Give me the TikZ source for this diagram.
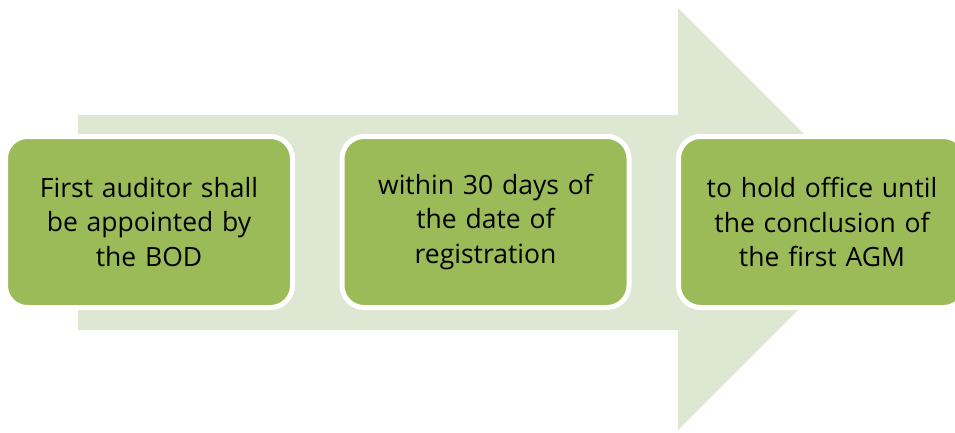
\documentclass[tikz,border=0pt]{standalone}
\usepackage{fontspec}
\setmainfont{Open Sans}
\definecolor{arrowfill}{HTML}{DEE7D1}
\definecolor{boxgreen}{HTML}{9BBB59}
\begin{document}
\begin{tikzpicture}[x=1pt,y=-1pt,
  stepbox/.style={draw=white, line width=5pt, fill=boxgreen, rounded corners=22pt,
    minimum width=287pt, minimum height=171pt, inner sep=0pt, text width=280pt,
    align=center, font=\fontsize{26.5}{34.5}\selectfont, text=black}]
\useasboundingbox (0,0) rectangle (955,432);
\clip (0,0) rectangle (955,432);
\fill[arrowfill] (78,115) -- (678,115) -- (678,8) -- (889,219) -- (678,430) -- (678,330) -- (78,330) -- cycle;
\node[stepbox] (b1) at (149,222) {First auditor shall\\be appointed by\\the BOD};
\node[stepbox] (b2) at (485.5,222) {within 30 days of\\the date of\\registration};
\node[stepbox] (b3) at (822,222) {to hold office until\\the conclusion of\\the first AGM};
\end{tikzpicture}
\end{document}
